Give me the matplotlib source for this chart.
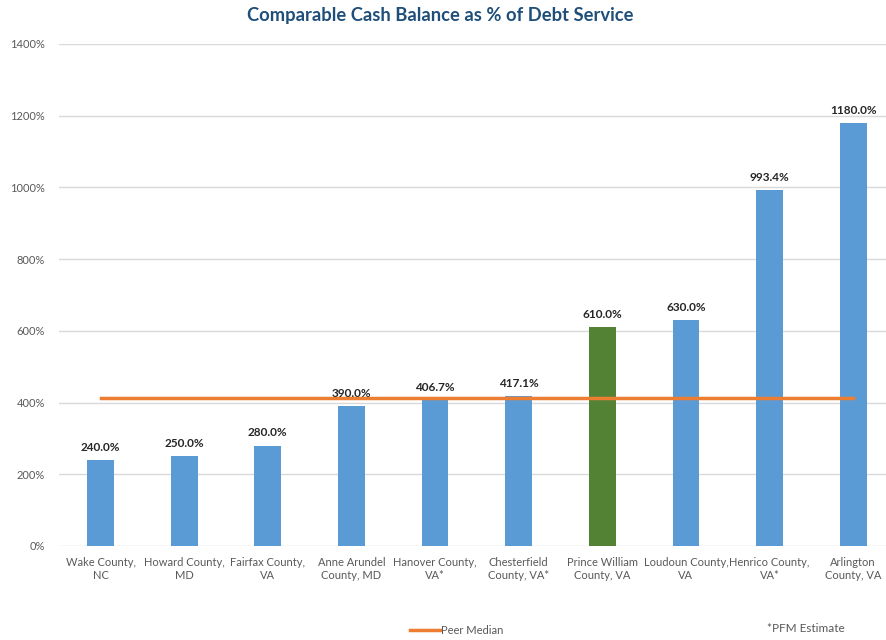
import matplotlib.pyplot as plt
import numpy as np

plt.rcParams['font.family'] = ['Lato', 'DejaVu Sans']

counties = ['Wake County,\nNC', 'Howard County,\nMD', 'Fairfax County,\nVA',
            'Anne Arundel\nCounty, MD', 'Hanover County,\nVA*', 'Chesterfield\nCounty, VA*',
            'Prince William\nCounty, VA', 'Loudoun County,\nVA', 'Henrico County,\nVA*',
            'Arlington\nCounty, VA']
cash_pct = [240.0, 250.0, 280.0, 390.0, 406.7, 417.1, 610.0, 630.0, 993.4, 1180.0]
peer_median = [411.9] * len(counties)
highlight = 'Prince William\nCounty, VA'

blue = '#5B9BD5'
green = '#548235'
orange = '#ED7D31'
grey = '#595959'

fig = plt.figure(figsize=(8.86, 6.4), dpi=100)
ax = fig.add_axes([58.7 / 886, 1 - 546 / 640, (895 - 58.7) / 886, (546 - 44) / 640])

x = np.arange(len(counties))
colors = [green if c == highlight else blue for c in counties]
ax.bar(x, cash_pct, 0.32, color=colors, zorder=2)
ax.plot(x, peer_median, color=orange, lw=2.5, zorder=3, label='Peer Median')

for xi, v in zip(x, cash_pct):
    ax.text(xi, v + 20, f'{v:.1f}%', ha='center', va='bottom',
            fontsize=8.5, fontweight='bold', color='#262626')

ax.set_xlim(-0.5, len(counties) - 0.5)
ax.set_ylim(0, 1400)
ax.set_yticks(np.arange(0, 1401, 200))
ax.set_yticklabels([f'{t}%' for t in range(0, 1401, 200)])
ax.set_xticks(x)
ax.set_xticklabels(counties)
ax.tick_params(axis='both', length=0, colors=grey, labelsize=8)
ax.tick_params(axis='x', pad=8)
ax.tick_params(axis='y', pad=10)
ax.grid(axis='y', color='#D9D9D9', lw=1, zorder=0)
for s in ax.spines.values():
    s.set_visible(False)

fig.text(0.497, 1 - 15 / 640, 'Comparable Cash Balance as % of Debt Service',
         ha='center', va='center', fontsize=13.2, fontweight='bold', color='#1F4E79')

fig.legend(loc='center', bbox_to_anchor=(457 / 886, 1 - 630 / 640),
           frameon=False, fontsize=8, labelcolor=grey, handlelength=2.7,
           handletextpad=0.1)
fig.text(806 / 886, 1 - 629 / 640, '*PFM Estimate', ha='center', va='center',
         fontsize=8.5, color=grey)

fig.savefig('out.png', dpi=100)
